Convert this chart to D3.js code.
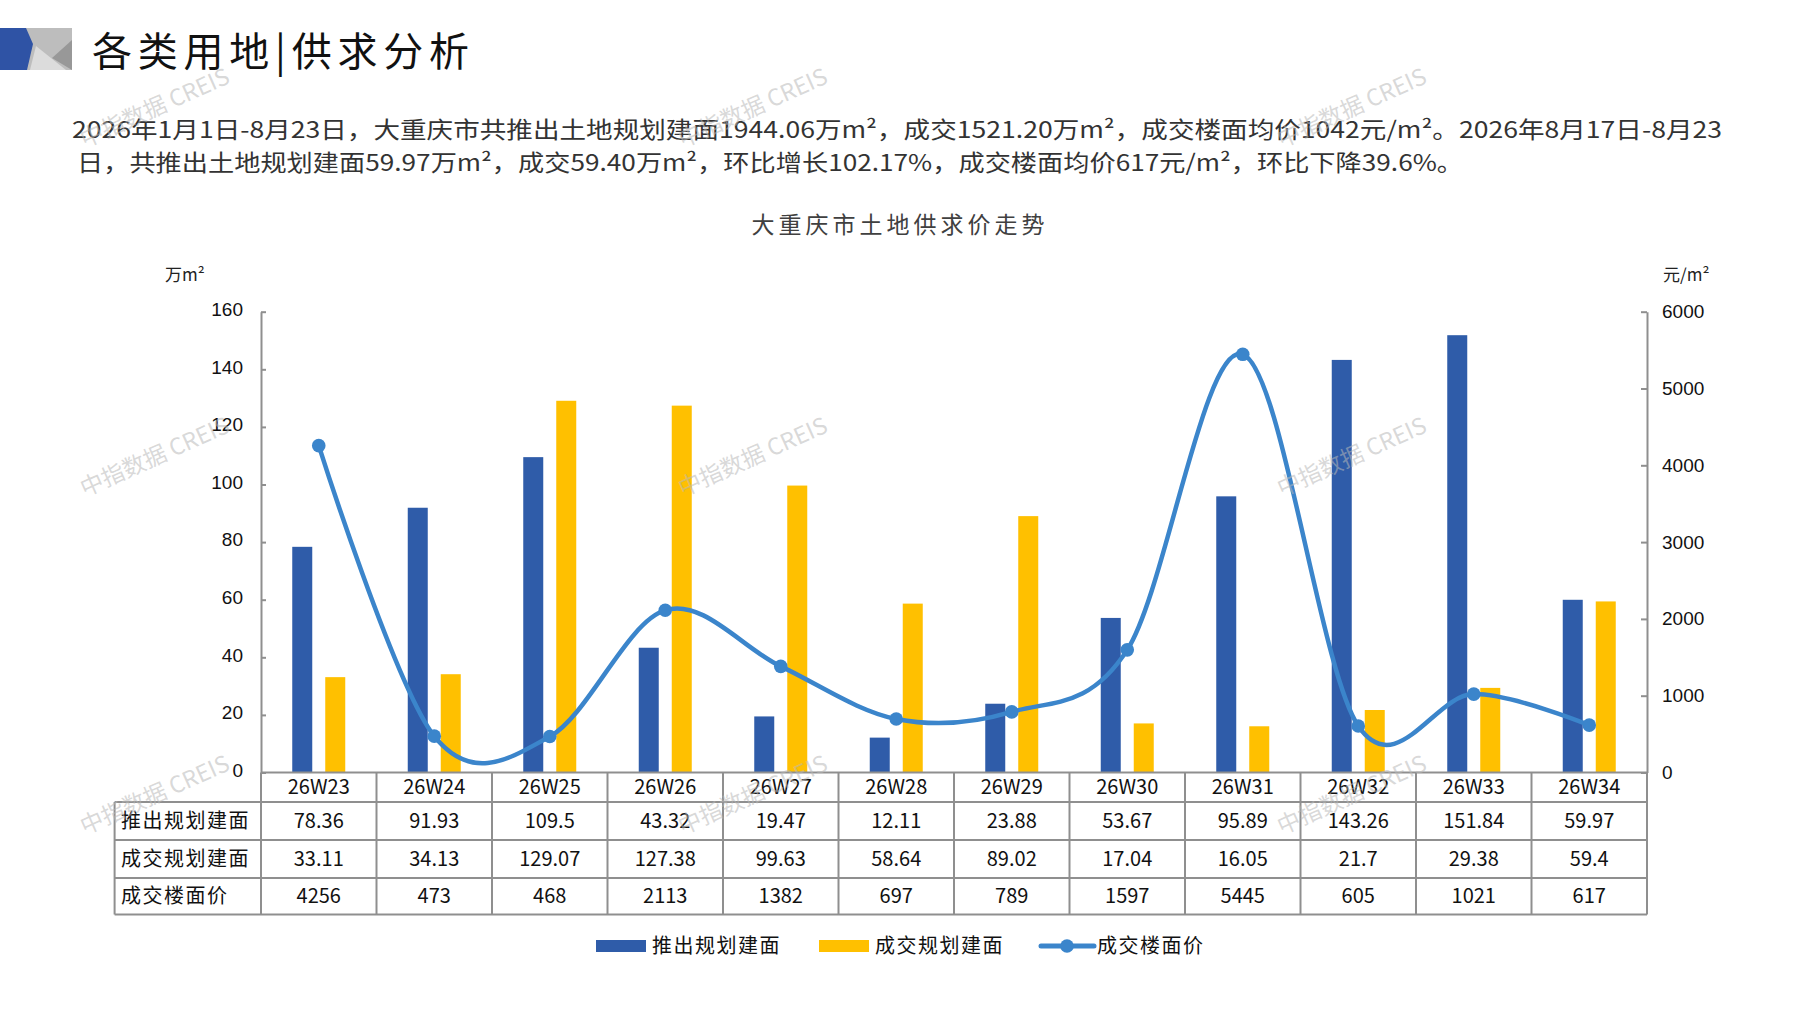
<!DOCTYPE html>
<html>
<head>
<meta charset="utf-8">
<script src="https://cdn.jsdelivr.net/npm/d3@7"></script>
<style>
  body { margin: 0; background: #fff; }
  svg { display: block; font-family: "Noto Sans CJK SC", sans-serif; }
</style>
</head>
<body>
<div id="chart"></div>
<script>
var width = 1797;
var height = 1010;

// data
var weeks = ["26W23", "26W24", "26W25", "26W26", "26W27", "26W28", "26W29", "26W30", "26W31", "26W32", "26W33", "26W34"];
var supply = [78.36, 91.93, 109.5, 43.32, 19.47, 12.11, 23.88, 53.67, 95.89, 143.26, 151.84, 59.97];
var deals = [33.11, 34.13, 129.07, 127.38, 99.63, 58.64, 89.02, 17.04, 16.05, 21.7, 29.38, 59.4];
var price = [4256, 473, 468, 2113, 1382, 697, 789, 1597, 5445, 605, 1021, 617];
var supplyLabels = ["78.36", "91.93", "109.5", "43.32", "19.47", "12.11", "23.88", "53.67", "95.89", "143.26", "151.84", "59.97"];
var dealLabels = ["33.11", "34.13", "129.07", "127.38", "99.63", "58.64", "89.02", "17.04", "16.05", "21.7", "29.38", "59.4"];
var leftTicks = [0, 20, 40, 60, 80, 100, 120, 140, 160];
var rightTicks = [0, 1000, 2000, 3000, 4000, 5000, 6000];
var seriesNames = ["推出规划建面", "成交规划建面", "成交楼面价"];

var blue = "#2f5ca9";
var gold = "#ffc000";
var lineBlue = "#3b85cb";
var gridGray = "#8f8f8f";

var plot = { left: 261, right: 1647, top: 311.7, bottom: 772.5 };
var rowLines = [772.5, 802, 840, 878, 914.5];
var tableLeft = 114.6;

var svg = d3.select("#chart")
    .append("svg")
    .attr("width", width)
    .attr("height", height);

// header decoration
var head = svg.append("g");
head.append("rect").attr("x", 20).attr("y", 28).attr("width", 52).attr("height", 42).attr("fill", "#bdbdbd");
head.append("polygon").attr("points", "30,70 36,46 66,70").attr("fill", "#dcdcdc");
head.append("polygon").attr("points", "72,40 52,58 72,70").attr("fill", "#989898");
head.append("polygon").attr("points", "0,28 26,28 33,44 27,70 0,70").attr("fill", "#2f53a5");

svg.append("text")
    .attr("x", 92).attr("y", 66)
    .attr("font-size", 40)
    .attr("textLength", 377)
    .attr("lengthAdjust", "spacing")
    .attr("fill", "#111")
    .text("各类用地|供求分析");

// summary text
var para = [
    "2026年1月1日-8月23日，大重庆市共推出土地规划建面1944.06万m²，成交1521.20万m²，成交楼面均价1042元/m²。2026年8月17日-8月23",
    "日，共推出土地规划建面59.97万m²，成交59.40万m²，环比增长102.17%，成交楼面均价617元/m²，环比下降39.6%。"
];
var paraX = [72, 77];
var paraW = [1650, 1386];
svg.selectAll("text.para")
    .data(para)
    .enter()
    .append("text")
    .attr("class", "para")
    .attr("x", function(d, i) { return paraX[i]; })
    .attr("y", function(d, i) { return 138 + i * 33; })
    .attr("font-size", 23)
    .attr("textLength", function(d, i) { return paraW[i]; })
    .attr("lengthAdjust", "spacingAndGlyphs")
    .attr("fill", "#333")
    .text(function(d) { return d; });

// chart title
svg.append("text")
    .attr("x", 900).attr("y", 233)
    .attr("text-anchor", "middle")
    .attr("font-size", 23)
    .attr("letter-spacing", 4)
    .attr("fill", "#404040")
    .text("大重庆市土地供求价走势");

svg.append("text").attr("x", 165).attr("y", 281).attr("font-size", 17).attr("fill", "#222").text("万m²");
svg.append("text").attr("x", 1663).attr("y", 281).attr("font-size", 17).attr("fill", "#222").text("元/m²");

// scales
var x = d3.scaleBand()
    .domain(weeks)
    .range([plot.left, plot.right]);

var yLeft = d3.scaleLinear()
    .domain([0, 160])
    .range([plot.bottom, plot.top]);

var yRight = d3.scaleLinear()
    .domain([0, 6000])
    .range([plot.bottom, plot.top]);

// axes
var leftAxis = d3.axisLeft(yLeft).tickValues(leftTicks).tickFormat(d3.format("d"))
    .tickSizeInner(-5).tickSizeOuter(0).tickPadding(18);
var rightAxis = d3.axisRight(yRight).tickValues(rightTicks).tickFormat(d3.format("d"))
    .tickSizeInner(-6).tickSizeOuter(0).tickPadding(18);

var gl = svg.append("g").attr("transform", "translate(" + plot.left + ",0)").call(leftAxis);
var gr = svg.append("g").attr("transform", "translate(" + plot.right + ",0)").call(rightAxis);
[gl, gr].forEach(function(g) {
    g.select(".domain").attr("stroke", gridGray).attr("stroke-width", 2);
    g.selectAll(".tick line").attr("stroke", gridGray).attr("stroke-width", 2);
    g.selectAll(".tick text")
        .attr("font-family", "'Liberation Sans', Arial, sans-serif")
        .attr("font-size", 19)
        .attr("fill", "#111");
});
gl.selectAll(".tick text").attr("dy", "0.2em");
gr.selectAll(".tick text").attr("dx", -3);

// bars
var barW = 20;
svg.append("g").selectAll("rect")
    .data(supply)
    .enter()
    .append("rect")
    .attr("x", function(d, i) { return x(weeks[i]) + x.bandwidth() / 2 - 26.5; })
    .attr("y", function(d) { return yLeft(d); })
    .attr("width", barW)
    .attr("height", function(d) { return yLeft(0) - yLeft(d); })
    .attr("fill", blue);

svg.append("g").selectAll("rect")
    .data(deals)
    .enter()
    .append("rect")
    .attr("x", function(d, i) { return x(weeks[i]) + x.bandwidth() / 2 + 6.5; })
    .attr("y", function(d) { return yLeft(d); })
    .attr("width", barW)
    .attr("height", function(d) { return yLeft(0) - yLeft(d); })
    .attr("fill", gold);

// price line
var line = d3.line()
    .x(function(d, i) { return x(weeks[i]) + x.bandwidth() / 2; })
    .y(function(d) { return yRight(d); })
    .curve(d3.curveCardinal.tension(0));

svg.append("path")
    .datum(price)
    .attr("d", line)
    .attr("fill", "none")
    .attr("stroke", lineBlue)
    .attr("stroke-width", 4.5);

svg.append("g").selectAll("circle")
    .data(price)
    .enter()
    .append("circle")
    .attr("cx", function(d, i) { return x(weeks[i]) + x.bandwidth() / 2; })
    .attr("cy", function(d) { return yRight(d); })
    .attr("r", 6.8)
    .attr("fill", lineBlue);

// data table
var table = svg.append("g").attr("stroke", gridGray).attr("stroke-width", 2);
table.append("line").attr("x1", plot.left).attr("x2", plot.right).attr("y1", rowLines[0]).attr("y2", rowLines[0]);
rowLines.slice(1).forEach(function(yy) {
    table.append("line").attr("x1", tableLeft).attr("x2", plot.right).attr("y1", yy).attr("y2", yy);
});
table.append("line").attr("x1", tableLeft).attr("x2", tableLeft).attr("y1", rowLines[1]).attr("y2", rowLines[4]);
weeks.forEach(function(w) {
    table.append("line").attr("x1", x(w)).attr("x2", x(w)).attr("y1", rowLines[0]).attr("y2", rowLines[4]);
});
table.append("line").attr("x1", plot.right).attr("x2", plot.right).attr("y1", rowLines[0]).attr("y2", rowLines[4]);

var rows = [weeks, supplyLabels, dealLabels, price.map(String)];
rows.forEach(function(vals, r) {
    var cy = (rowLines[r] + rowLines[r + 1]) / 2;
    svg.append("g").selectAll("text")
        .data(vals)
        .enter()
        .append("text")
        .attr("x", function(d, i) { return x(weeks[i]) + x.bandwidth() / 2; })
        .attr("y", cy)
        .attr("dy", "0.36em")
        .attr("text-anchor", "middle")
        .attr("font-size", 20)
        .attr("fill", "#111")
        .text(function(d) { return d; });
    if (r > 0) {
        svg.append("text")
            .attr("x", 121)
            .attr("y", cy)
            .attr("dy", "0.36em")
            .attr("font-size", 20)
            .attr("letter-spacing", 1.5)
            .attr("fill", "#111")
            .text(seriesNames[r - 1]);
    }
});

// legend
var legend = svg.append("g");
var legX = [596, 819, 1041];
legend.append("rect").attr("x", legX[0]).attr("y", 940).attr("width", 50).attr("height", 12).attr("fill", blue);
legend.append("rect").attr("x", legX[1]).attr("y", 940).attr("width", 50).attr("height", 12).attr("fill", gold);
legend.append("line").attr("x1", legX[2]).attr("x2", legX[2] + 53).attr("y1", 946).attr("y2", 946)
    .attr("stroke", lineBlue).attr("stroke-width", 5).attr("stroke-linecap", "round");
legend.append("circle").attr("cx", legX[2] + 26).attr("cy", 946).attr("r", 6.8).attr("fill", lineBlue);
legend.selectAll("text")
    .data(seriesNames)
    .enter()
    .append("text")
    .attr("x", function(d, i) { return legX[i] + 56; })
    .attr("y", 946)
    .attr("dy", "0.36em")
    .attr("font-size", 20)
    .attr("letter-spacing", 1.5)
    .attr("fill", "#111")
    .text(function(d) { return d; });

// watermarks
var wmX = [158, 756, 1355];
var wmY = [115, 464, 802];
wmY.forEach(function(wy) {
    wmX.forEach(function(wx) {
        svg.append("text")
            .attr("transform", "translate(" + wx + "," + wy + ") rotate(-24)")
            .attr("text-anchor", "middle")
            .attr("font-size", 23)
            .attr("fill", "#b8b8b8")
            .attr("fill-opacity", 0.55)
            .text("中指数据 CREIS");
    });
});
</script>
</body>
</html>
